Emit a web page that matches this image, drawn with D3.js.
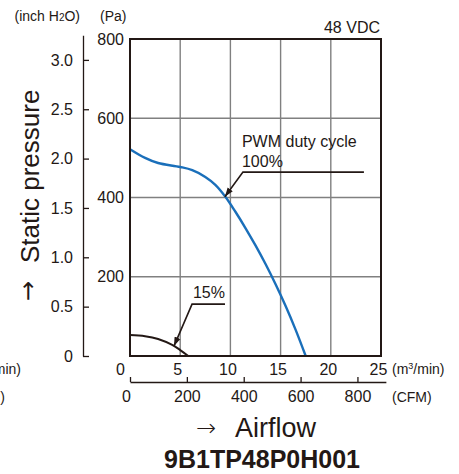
<!DOCTYPE html>
<html>
<head>
<meta charset="utf-8">
<script src="https://cdn.jsdelivr.net/npm/d3@7"></script>
<style>
  html, body { margin: 0; padding: 0; background: #fff; }
  svg { display: block; font-family: "Liberation Sans", Arial, Helvetica, sans-serif; }
</style>
</head>
<body>
<svg id="chart" width="459" height="474"></svg>
<script>
// 100% duty cycle curve (m3/min, Pa)
const flow100 = [0, 1.5, 2.8, 5, 6.2, 7.5, 8.5, 9.5, 10.5, 11.5, 12.5, 13.5, 14.5, 15.5, 16.5, 17.5];
const pres100 = [522, 500, 487, 477, 469, 452, 432, 402, 364, 323, 279, 232, 181, 126, 66, 0];
// 15% duty cycle curve
const flow15 = [0, 1.5, 2.8, 4.2, 5, 5.8];
const pres15 = [53, 50, 43, 28, 15, 0];

const flowTicks = [0, 5, 10, 15, 20, 25];
const paTicks = [200, 400, 600, 800];
const inchTicks = [0, 0.5, 1.0, 1.5, 2.0, 2.5, 3.0];
const cfmTicks = [0, 200, 400, 600, 800];

const PA_PER_INCH = 249.0889;
const CFM_PER_M3MIN = 35.3147;

const svg = d3.select("#chart");

const x = d3.scaleLinear().domain([0, 25]).range([130, 381]);
const y = d3.scaleLinear().domain([0, 800]).range([356, 39]);
const yInch = d3.scaleLinear().domain([0, 3.25]).range([y(0), y(3.25 * PA_PER_INCH)]);
const xCfm = d3.scaleLinear().domain([0, 900]).range([x(0), x(900 / CFM_PER_M3MIN)]);

// grid
const grid = svg.append("g").attr("stroke", "#808080").attr("stroke-width", 1.4);
grid.selectAll("line.v")
    .data(flowTicks.slice(1, -1))
    .enter().append("line")
    .attr("x1", d => x(d)).attr("x2", d => x(d))
    .attr("y1", y(0)).attr("y2", y(800));
grid.selectAll("line.h")
    .data(paTicks.slice(0, -1))
    .enter().append("line")
    .attr("x1", x(0)).attr("x2", x(25))
    .attr("y1", d => y(d)).attr("y2", d => y(d));

// curves
const line = d3.line()
    .x(d => x(d[0]))
    .y(d => y(d[1]))
    .curve(d3.curveCatmullRom.alpha(0.5));

svg.append("path")
    .datum(d3.zip(flow100, pres100))
    .attr("d", line)
    .attr("fill", "none")
    .attr("stroke", "#1a6fba")
    .attr("stroke-width", 2.4);

svg.append("path")
    .datum(d3.zip(flow15, pres15))
    .attr("d", line)
    .attr("fill", "none")
    .attr("stroke", "#231815")
    .attr("stroke-width", 2);

// frame
svg.append("rect")
    .attr("x", x(0)).attr("y", y(800))
    .attr("width", x(25) - x(0)).attr("height", y(0) - y(800))
    .attr("fill", "none")
    .attr("stroke", "#231815")
    .attr("stroke-width", 2);

// Pa labels
const paAxis = svg.append("g")
    .attr("transform", `translate(${x(0)},0)`)
    .call(d3.axisLeft(y).tickValues(paTicks).tickSize(0).tickPadding(6));
paAxis.select(".domain").remove();

// inch H2O axis
const inchAxis = svg.append("g")
    .attr("transform", "translate(83,0)")
    .call(d3.axisLeft(yInch).tickValues(inchTicks).tickSize(-6).tickSizeOuter(0).tickPadding(10));
inchAxis.selectAll(".tick text").text(d => d === 0 ? "0" : d3.format(".1f")(d));

// m3/min axis
const flowAxis = svg.append("g")
    .attr("transform", `translate(0,${y(0)})`)
    .call(d3.axisBottom(x).tickValues(flowTicks).tickSize(0).tickPadding(8));
flowAxis.select(".domain").remove();
flowAxis.selectAll(".tick text").attr("dx", d => d === 0 ? -10 : -3);

// CFM axis
const cfmAxis = svg.append("g")
    .attr("transform", "translate(0,382)")
    .call(d3.axisBottom(xCfm).tickValues(cfmTicks).tickSize(-5).tickSizeOuter(0).tickPadding(9));
cfmAxis.selectAll(".tick text").attr("dx", d => d === 0 ? -4 : 0);

svg.selectAll(".tick text")
    .attr("font-family", null)
    .attr("font-size", 16)
    .attr("fill", "#231815");
svg.selectAll(".domain, .tick line").attr("stroke", "#231815").attr("stroke-width", 1.3);

// annotations
svg.append("defs").append("marker")
    .attr("id", "arrow")
    .attr("viewBox", "0 0 10 10")
    .attr("refX", 10).attr("refY", 5)
    .attr("markerWidth", 9).attr("markerHeight", 9)
    .attr("markerUnits", "userSpaceOnUse")
    .attr("orient", "auto")
    .append("path").attr("d", "M0,1.5L10,5L0,8.5Z").attr("fill", "#231815");

const notes = [
    {tip: [9.45, 402], elbow: [11.25, 464], end: 23.3},
    {tip: [4.38, 25], elbow: [6.18, 131], end: 9.46}
];
notes.forEach(n => {
    svg.append("path")
        .attr("d", `M${x(n.end)},${y(n.elbow[1])}H${x(n.elbow[0])}L${x(n.tip[0])},${y(n.tip[1])}`)
        .attr("fill", "none")
        .attr("stroke", "#231815")
        .attr("stroke-width", 1.6)
        .attr("marker-end", "url(#arrow)");
});

const txt = (s, px, py, size, anchor) => svg.append("text")
    .attr("x", px).attr("y", py)
    .attr("font-size", size)
    .attr("fill", "#231815")
    .attr("text-anchor", anchor || "start")
    .text(s);

txt("PWM duty cycle", x(11.15), y(527), 16);
txt("100%", x(11.15), y(477), 16);
txt("15%", x(6.27), y(146), 16);

txt("48 VDC", 380, 33, 16, "end");

const unitInch = svg.append("text")
    .attr("x", 80).attr("y", 21).attr("font-size", 14)
    .attr("fill", "#231815").attr("text-anchor", "end");
unitInch.append("tspan").text("(inch H");
unitInch.append("tspan").attr("font-size", 10).text("2");
unitInch.append("tspan").text("O)");
txt("(Pa)", 100, 21, 14);

const flowUnit = (px, anchor) => {
    const t = svg.append("text")
        .attr("x", px).attr("y", 374).attr("font-size", 14).attr("fill", "#231815")
        .attr("text-anchor", anchor);
    t.append("tspan").text("(m");
    t.append("tspan").attr("font-size", 9).attr("dy", -5).text("3");
    t.append("tspan").attr("dy", 5).text("/min)");
};
flowUnit(392, "start");
txt("(CFM)", 392, 402, 14);

// cut-off units of the neighbouring chart
flowUnit(21, "end");
txt("(CFM)", 5, 402, 14, "end");

// axis titles
txt("→", 196, 436, 24).attr("font-family", "DejaVu Sans").attr("font-weight", 200);
txt("Airflow", 235, 437, 27);
svg.append("text")
    .attr("transform", "translate(39,263) rotate(-90)")
    .attr("font-size", 26)
    .attr("fill", "#231815")
    .text("Static pressure");
svg.append("text")
    .attr("transform", "translate(36,301) rotate(-90)")
    .attr("font-size", 24)
    .attr("font-family", "DejaVu Sans")
    .attr("fill", "#231815")
    .text("→");

svg.append("text")
    .attr("x", 262).attr("y", 468)
    .attr("text-anchor", "middle")
    .attr("font-size", 25)
    .attr("font-weight", "bold")
    .attr("fill", "#231815")
    .text("9B1TP48P0H001");
</script>
</body>
</html>
